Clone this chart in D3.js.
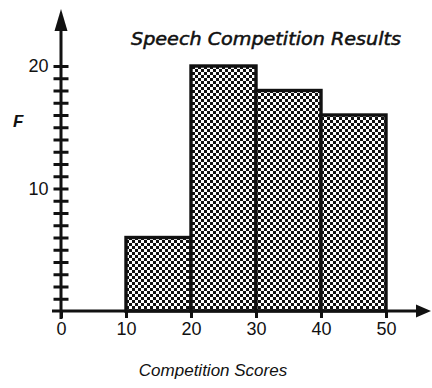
<!DOCTYPE html>
<html>
<head>
<meta charset="utf-8">
<script src="https://cdn.jsdelivr.net/npm/d3@7"></script>
<style>
  html, body { margin: 0; padding: 0; background: #fff; }
  svg { display: block; }
</style>
</head>
<body>
<svg id="chart" width="432" height="388"></svg>
<script>
// Histogram: speech competition scores grouped in classes of width 10
const binStarts = [10, 20, 30, 40];
const binEnds   = [20, 30, 40, 50];
const frequencies = [6, 20, 18, 16];
const xTickValues = [0, 10, 20, 30, 40, 50];
const yLabelValues = [10, 20];
const titleText = "Speech Competition Results";
const xTitle = "Competition Scores";
const yTitle = "F";

const svg = d3.select("#chart");

const x = d3.scaleLinear().domain([0, 50]).range([61, 386]);
const y = d3.scaleLinear().domain([0, 20]).range([311, 66]);

// checkerboard fill
const defs = svg.append("defs");
const pat = defs.append("pattern")
  .attr("id", "checker")
  .attr("patternUnits", "userSpaceOnUse")
  .attr("width", 6).attr("height", 6);
pat.append("rect").attr("width", 6).attr("height", 6).attr("fill", "#fff");
pat.append("rect").attr("width", 3).attr("height", 3).attr("fill", "#111");
pat.append("rect").attr("x", 3).attr("y", 3).attr("width", 3).attr("height", 3).attr("fill", "#111");

const bins = binStarts.map((s, i) => ({ x0: s, x1: binEnds[i], f: frequencies[i] }));

svg.append("g").selectAll("rect")
  .data(bins)
  .join("rect")
  .attr("x", d => x(d.x0))
  .attr("y", d => y(d.f))
  .attr("width", d => x(d.x1) - x(d.x0))
  .attr("height", d => y(0) - y(d.f))
  .attr("fill", "url(#checker)")
  .attr("stroke", "#111")
  .attr("stroke-width", 3.4);

// vertical axis with a tick at every unit, labels at 10 and 20
const yAxis = d3.axisLeft(y)
  .tickValues(d3.range(1, 21))
  .tickSize(15)
  .tickPadding(5)
  .tickFormat(d => yLabelValues.includes(d) ? d : "");
const gy = svg.append("g")
  .attr("transform", `translate(${x(0) + 7.5},0)`)
  .call(yAxis);
gy.select(".domain").remove();
gy.selectAll(".tick line").attr("stroke", "#111").attr("stroke-width", 3);
gy.selectAll(".tick text")
  .attr("font-family", "'Liberation Sans', Arial, sans-serif")
  .attr("font-size", 18)
  .attr("fill", "#111");

// horizontal axis ticks and labels
const xAxis = d3.axisBottom(x)
  .tickValues(xTickValues)
  .tickSize(7)
  .tickPadding(4)
  .tickFormat(d3.format("d"));
const gx = svg.append("g")
  .attr("transform", `translate(0,${y(0)})`)
  .call(xAxis);
gx.select(".domain").remove();
gx.selectAll(".tick line").attr("stroke", "#111").attr("stroke-width", 3);
gx.selectAll(".tick text")
  .attr("font-family", "'Liberation Sans', Arial, sans-serif")
  .attr("font-size", 18)
  .attr("fill", "#111");

// axis lines with arrowheads
const ax = svg.append("g").attr("stroke", "#111").attr("stroke-width", 3);
ax.append("line")
  .attr("x1", x(0)).attr("x2", x(0))
  .attr("y1", y(0) + 8).attr("y2", 26);
ax.append("line")
  .attr("x1", x(0) - 9).attr("x2", 420)
  .attr("y1", y(0)).attr("y2", y(0));
svg.append("path")
  .attr("d", `M${x(0)},9 L${x(0) - 6.5},31 L${x(0) + 6.5},31 Z`)
  .attr("fill", "#111");
svg.append("path")
  .attr("d", `M431,${y(0)} L416,${y(0) - 6.5} L416,${y(0) + 6.5} Z`)
  .attr("fill", "#111");

// titles
svg.append("text")
  .attr("x", 131).attr("y", 45)
  .attr("font-family", "'DejaVu Sans', sans-serif")
  .attr("font-style", "italic")
  .attr("font-size", 17)
  .attr("textLength", 270)
  .attr("lengthAdjust", "spacingAndGlyphs")
  .attr("fill", "#111")
  .attr("stroke", "#111")
  .attr("stroke-width", 0.5)
  .text(titleText);

svg.append("text")
  .attr("x", 213).attr("y", 376)
  .attr("text-anchor", "middle")
  .attr("font-family", "'Liberation Sans', Arial, sans-serif")
  .attr("font-style", "italic")
  .attr("font-size", 17)
  .attr("fill", "#111")
  .text(xTitle);

svg.append("text")
  .attr("x", 13).attr("y", 127)
  .attr("font-family", "'Liberation Sans', Arial, sans-serif")
  .attr("font-style", "italic")
  .attr("font-weight", "bold")
  .attr("font-size", 17)
  .attr("fill", "#111")
  .text(yTitle);
</script>
</body>
</html>
